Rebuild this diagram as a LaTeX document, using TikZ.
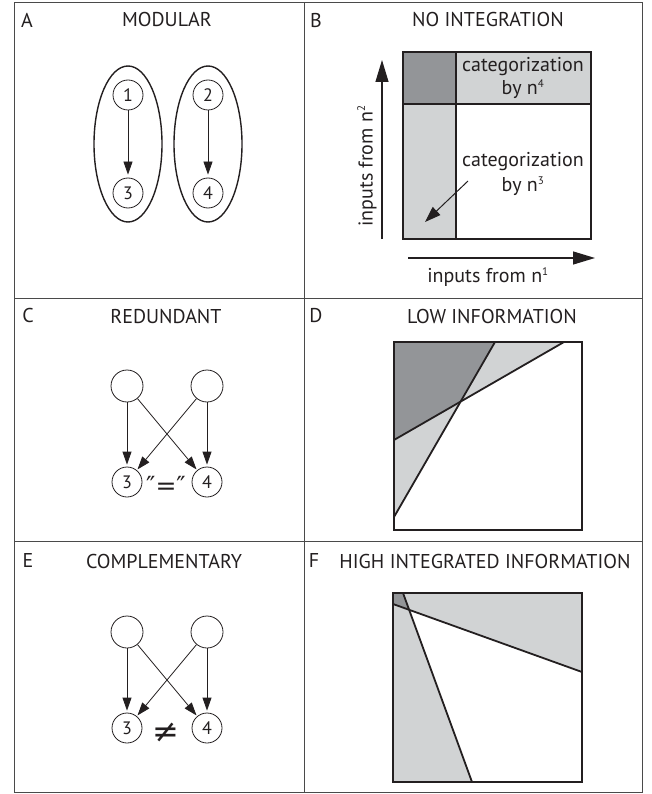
\documentclass[tikz,border=0pt]{standalone}
\usepackage{fontspec}
\setmainfont{PT Sans}
\newfontfamily\symfont{DejaVu Sans}
\usetikzlibrary{arrows.meta,shapes.geometric}
\definecolor{dgray}{HTML}{939598}
\definecolor{lgray}{HTML}{D1D3D4}
\definecolor{framec}{HTML}{4A4A4A}
\definecolor{ink}{HTML}{231F20}
\newcommand{\sups}[1]{\textsuperscript{\fontsize{11}{12}\selectfont #1}}
\begin{document}
\begin{tikzpicture}[x=1pt,y=-1pt,
  title/.style={anchor=base,font=\fontsize{20}{24}\selectfont,text=ink,inner sep=0pt},
  plabel/.style={anchor=base,font=\fontsize{20}{24}\selectfont,text=ink,inner sep=0pt},
  body/.style={font=\fontsize{20}{24}\selectfont,text=ink,inner sep=0pt,align=center},
  num/.style={circle,draw=ink,line width=0.8pt,minimum size=30pt,inner sep=0pt,font=\fontsize{18}{20}\selectfont,text=ink},
  bignum/.style={circle,draw=ink,line width=0.8pt,minimum size=32pt,inner sep=0pt},
  module/.style={ellipse,draw=ink,line width=1.4pt,minimum width=68pt,minimum height=156pt,inner sep=0pt},
  arr/.style={draw=ink,line width=0.8pt,-{Triangle[length=13pt,width=9pt]}},
  axis/.style={draw=ink,line width=1.2pt,-{Triangle[length=22pt,width=13pt]}},
  sq/.style={draw=ink,line width=2pt},
  cut/.style={draw=ink,line width=1.8pt},
]
\useasboundingbox (0,0) rectangle (651,794);

% frame
\draw[framec,line width=1pt] (14,3) rectangle (642,792);
\draw[framec,line width=1pt] (304,3) -- (304,792);
\draw[framec,line width=1pt] (14,298) -- (642,298);
\draw[framec,line width=1pt] (14,541) -- (642,541);

% panel labels and titles
\node[plabel] (lA) at (27,28) {A};
\node[title] (tA) at (167,27) {MODULAR};
\node[plabel] (lB) at (316,28) {B};
\node[title] (tB) at (488,27) {NO INTEGRATION};
\node[plabel] (lC) at (28,322) {C};
\node[title] (tC) at (166,323) {REDUNDANT};
\node[plabel] (lD) at (316,322) {D};
\node[title] (tD) at (492,323) {LOW INFORMATION};
\node[plabel] (lE) at (28,567) {E};
\node[title] (tE) at (164,568) {COMPLEMENTARY};
\node[plabel] (lF) at (314,567) {F};
\node[title] (tF) at (485,568) {HIGH INTEGRATED INFORMATION};

% ---------- A ----------
\node[module] (mL) at (128,144) {};
\node[module] (mR) at (208,144) {};
\node[num] (a1) at (128,95) {1};
\node[num] (a3) at (128,193) {3};
\node[num] (a2) at (208,95) {2};
\node[num] (a4) at (208,193) {4};
\draw[arr,shorten >=3pt] (a1) -- (a3);
\draw[arr,shorten >=3pt] (a2) -- (a4);

% ---------- B ----------
\fill[dgray] (403,52) rectangle (456,104);
\fill[lgray] (456,52) rectangle (591,104);
\fill[lgray] (403,104) rectangle (456,239);
\draw[cut] (456,52) -- (456,239);
\draw[cut] (403,104) -- (591,104);
\draw[sq] (403,52) rectangle (591,239);
\node[body,anchor=base] (c4a) at (523,72) {categorization};
\node[body,anchor=base] (c4b) at (523,95) {by n\sups{4}};
\node[body,anchor=base] (c3a) at (523,167) {categorization};
\node[body,anchor=base] (c3b) at (523,192) {by n\sups{3}};
\coordinate (pS) at (468,181);
\coordinate (pE) at (425,222);
\draw[draw=ink,line width=1pt,-{Triangle[length=16pt,width=11pt]}] (pS) -- (pE);
\coordinate (vS) at (382,239);
\coordinate (vE) at (382,60);
\draw[axis] (vS) -- (vE);
\node[body,rotate=90] (in2) at (367,166) {inputs from n\sups{2}};
\coordinate (hS) at (408,258);
\coordinate (hE) at (595,258);
\draw[axis] (hS) -- (hE);
\node[body] (in1) at (488,277) {inputs from n\sups{1}};

% ---------- C ----------
\node[bignum] (c1) at (127,386) {};
\node[bignum] (c2) at (207,386) {};
\node[num] (c3) at (127,482) {3};
\node[num] (c4) at (207,482) {4};
\draw[arr,shorten >=2pt] (c1) -- (c3);
\draw[arr,shorten >=2pt] (c2) -- (c4);
\draw[arr,shorten >=1pt] (c1) -- (c4);
\draw[arr,shorten >=1pt] (c2) -- (c3);
\node[body,anchor=base,font=\symfont\fontsize{25}{28}\selectfont] (eqC) at (166,494) {″=″};

% ---------- D ----------
\coordinate (d1) at (495,342);
\coordinate (d2) at (394,517);
\coordinate (d3) at (564,342);
\coordinate (d4) at (394,440);
\coordinate (dX) at (intersection of d1--d2 and d3--d4);
\fill[dgray] (394,342) -- (d1) -- (dX) -- (d4) -- cycle;
\fill[lgray] (d1) -- (d3) -- (dX) -- cycle;
\fill[lgray] (d4) -- (dX) -- (d2) -- cycle;
\draw[cut] (d1) -- (d2);
\draw[cut] (d3) -- (d4);
\draw[sq] (394,342) rectangle (582,530);

% ---------- E ----------
\node[bignum] (e1) at (127,632) {};
\node[bignum] (e2) at (207,632) {};
\node[num] (e3) at (127,728) {3};
\node[num] (e4) at (207,728) {4};
\draw[arr,shorten >=2pt] (e1) -- (e3);
\draw[arr,shorten >=2pt] (e2) -- (e4);
\draw[arr,shorten >=1pt] (e1) -- (e4);
\draw[arr,shorten >=1pt] (e2) -- (e3);
\node[body,font=\symfont\fontsize{32}{34}\selectfont] (neqE) at (166,733) {≠};

% ---------- F ----------
\coordinate (f1) at (403,593);
\coordinate (f2) at (472,782);
\coordinate (f3) at (393,604);
\coordinate (f4) at (582,672);
\coordinate (fX) at (intersection of f1--f2 and f3--f4);
\fill[dgray] (393,593) -- (f1) -- (fX) -- (f3) -- cycle;
\fill[lgray] (f1) -- (582,593) -- (f4) -- (fX) -- cycle;
\fill[lgray] (f3) -- (fX) -- (f2) -- (393,782) -- cycle;
\draw[cut] (f1) -- (f2);
\draw[cut] (f3) -- (f4);
\draw[sq] (393,593) rectangle (582,782);
\end{tikzpicture}
\end{document}
